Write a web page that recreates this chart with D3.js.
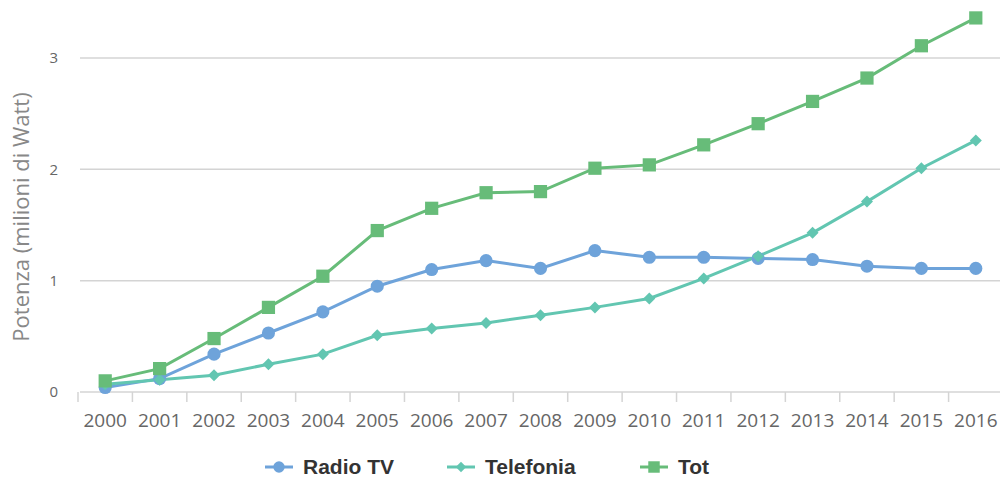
<!DOCTYPE html>
<html>
<head>
<meta charset="utf-8">
<script src="https://cdn.jsdelivr.net/npm/d3@7"></script>
<style>
  body { margin: 0; background: #fff; }
  svg { display: block; }
</style>
</head>
<body>
<div id="chart"></div>
<script>
const years = ["2000","2001","2002","2003","2004","2005","2006","2007","2008","2009","2010","2011","2012","2013","2014","2015","2016"];
const radioTv = [0.04,0.12,0.34,0.53,0.72,0.95,1.10,1.18,1.11,1.27,1.21,1.21,1.20,1.19,1.13,1.11,1.11];
const telefonia = [0.07,0.11,0.15,0.25,0.34,0.51,0.57,0.62,0.69,0.76,0.84,1.02,1.22,1.43,1.71,2.01,2.26];
const tot = [0.10,0.21,0.48,0.76,1.04,1.45,1.65,1.79,1.80,2.01,2.04,2.22,2.41,2.61,2.82,3.11,3.36];
const yTicks = [0, 1, 2, 3];

// diamond = square turned 45 degrees
const series = [
  { name: "Radio TV", values: radioTv, color: "#6ea3da", symbol: d3.symbolCircle, size: 135, rot: 0 },
  { name: "Telefonia", values: telefonia, color: "#62c6b1", symbol: d3.symbolSquare, size: 72, rot: 45 },
  { name: "Tot", values: tot, color: "#67bc79", symbol: d3.symbolSquare, size: 175, rot: 0 }
];

const width = 1000, height = 480;
const svg = d3.select("#chart").append("svg")
  .attr("width", width)
  .attr("height", height);

const xScale = d3.scaleBand()
  .domain(years)
  .range([78, 1003]);

const yScale = d3.scaleLinear()
  .domain([0, 3])
  .range([392, 58]);

// gridlines
svg.append("g")
  .selectAll("line")
  .data(yTicks)
  .join("line")
  .attr("x1", 80)
  .attr("x2", 1000)
  .attr("y1", d => yScale(d))
  .attr("y2", d => yScale(d))
  .attr("stroke", "#d4d4d4")
  .attr("stroke-width", 1.5);

// y labels
svg.append("g")
  .selectAll("text")
  .data(yTicks)
  .join("text")
  .attr("x", 58)
  .attr("y", d => yScale(d))
  .attr("dy", "0.35em")
  .attr("text-anchor", "end")
  .attr("fill", "#666")
  .style("font-family", "'Open Sans', sans-serif")
  .style("font-size", "15px")
  .text(d => d);

// x ticks at band edges
const edges = years.map(d => xScale(d)).concat([xScale.range()[1]]);
svg.append("g")
  .selectAll("line")
  .data(edges)
  .join("line")
  .attr("x1", d => d)
  .attr("x2", d => d)
  .attr("y1", yScale(0))
  .attr("y2", yScale(0) + 10)
  .attr("stroke", "#d4d4d4")
  .attr("stroke-width", 1.5);

svg.append("g")
  .selectAll("text")
  .data(years)
  .join("text")
  .attr("x", d => xScale(d) + xScale.bandwidth() / 2)
  .attr("y", 427)
  .attr("text-anchor", "middle")
  .attr("fill", "#666")
  .style("font-family", "'Open Sans', sans-serif")
  .style("font-size", "19px")
  .text(d => d);

// y title
svg.append("text")
  .attr("transform", "translate(29,217) rotate(-90)")
  .attr("text-anchor", "middle")
  .attr("fill", "#888")
  .style("font-family", "'Open Sans', sans-serif")
  .style("font-size", "22px")
  .text("Potenza (milioni di Watt)");

const line = d3.line()
  .x((d, i) => xScale(years[i]) + xScale.bandwidth() / 2)
  .y(d => yScale(d));

series.forEach(s => {
  svg.append("path")
    .datum(s.values)
    .attr("fill", "none")
    .attr("stroke", s.color)
    .attr("stroke-width", 3)
    .attr("d", line);
});

series.forEach(s => {
  svg.append("g")
    .selectAll("path")
    .data(s.values)
    .join("path")
    .attr("transform", (d, i) => `translate(${xScale(years[i]) + xScale.bandwidth() / 2},${yScale(d)}) rotate(${s.rot})`)
    .attr("d", d3.symbol().type(s.symbol).size(s.size))
    .attr("fill", s.color);
});

// legend
const legendX = [265, 447, 640];
series.forEach((s, i) => {
  const g = svg.append("g").attr("transform", `translate(${legendX[i]},467)`);
  g.append("line")
    .attr("x1", 0).attr("x2", 28)
    .attr("stroke", s.color)
    .attr("stroke-width", 3);
  g.append("path")
    .attr("transform", `translate(14,0) rotate(${s.rot})`)
    .attr("d", d3.symbol().type(s.symbol).size(s.size * 0.75))
    .attr("fill", s.color);
  g.append("text")
    .attr("x", 38)
    .attr("dy", "0.35em")
    .attr("fill", "#333")
    .style("font-family", "'Liberation Sans', Arial, sans-serif")
    .style("font-weight", "bold")
    .style("font-size", "21px")
    .text(s.name);
});
</script>
</body>
</html>
